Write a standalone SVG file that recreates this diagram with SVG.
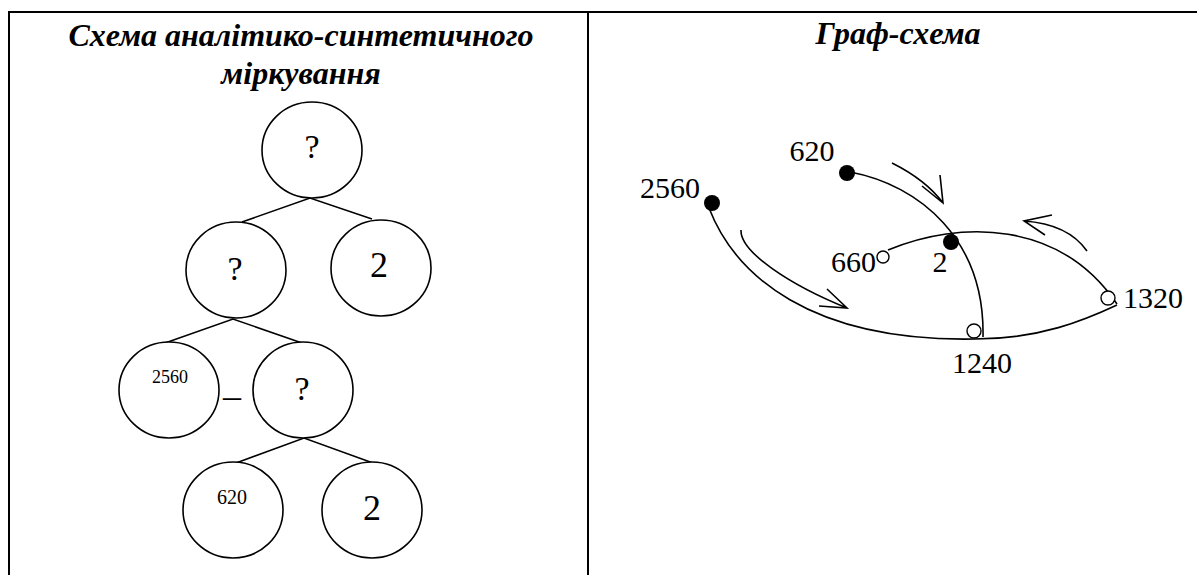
<svg xmlns="http://www.w3.org/2000/svg" width="1197" height="575" viewBox="0 0 1197 575">
  <style>
    .title { font-family: "Liberation Serif", "Times New Roman", serif; font-weight: bold; font-style: italic; font-size: 32px; fill: #000; }
    .lbl { font-family: "Liberation Serif", "Times New Roman", serif; fill: #000; }
    .num { font-family: "Liberation Serif", "Times New Roman", serif; font-size: 30px; fill: #000; }
    .node { fill: #fff; stroke: #000; stroke-width: 1.6; }
    .edge { fill: none; stroke: #000; stroke-width: 1.6; }
    .grid { stroke: #000; stroke-width: 2; fill: none; }
    .dot { fill: #000; }
    .ring { fill: #fff; stroke: #000; stroke-width: 1.4; }
  </style>

  <rect width="1197" height="575" fill="#fff"/>

  <!-- table frame -->
  <g id="table">
    <line class="grid" x1="8" y1="12" x2="1197" y2="12"/>
    <line class="grid" x1="9" y1="12" x2="9" y2="575"/>
    <line class="grid" x1="588" y1="12" x2="588" y2="575"/>
  </g>

  <!-- column headings -->
  <g id="headings">
    <text class="title" x="301" y="46" text-anchor="middle">Схема аналітико-синтетичного</text>
    <text class="title" x="301" y="84" text-anchor="middle">міркування</text>
    <text class="title" x="898" y="44" text-anchor="middle">Граф-схема</text>
  </g>

  <!-- tree connectors -->
  <g id="tree-edges">
    <polyline class="edge" points="242,222 310,198 372,219"/>
    <polyline class="edge" points="165,343 233,319 302,343"/>
    <polyline class="edge" points="236,463 304,438 373,463"/>
  </g>

  <!-- tree nodes -->
  <g id="t-root">
    <ellipse class="node" cx="312" cy="150" rx="50" ry="48"/>
    <text class="lbl" x="312" y="158" font-size="34" text-anchor="middle">?</text>
  </g>
  <g id="t-left">
    <ellipse class="node" cx="236" cy="270" rx="50" ry="48"/>
    <text class="lbl" x="235" y="280" font-size="34" text-anchor="middle">?</text>
  </g>
  <g id="t-right">
    <ellipse class="node" cx="381" cy="268" rx="50" ry="48"/>
    <text class="lbl" x="379" y="277" font-size="36" text-anchor="middle">2</text>
  </g>
  <g id="t-2560">
    <ellipse class="node" cx="169" cy="390" rx="50" ry="48"/>
    <text class="lbl" x="170" y="383" font-size="18" text-anchor="middle">2560</text>
  </g>
  <g id="t-minus">
    <text class="lbl" x="232" y="408" font-size="36" text-anchor="middle">–</text>
  </g>
  <g id="t-sub">
    <ellipse class="node" cx="303" cy="390" rx="50" ry="48"/>
    <text class="lbl" x="302" y="400" font-size="34" text-anchor="middle">?</text>
  </g>
  <g id="t-620">
    <ellipse class="node" cx="233" cy="510" rx="50" ry="48"/>
    <text class="lbl" x="232" y="504" font-size="20" text-anchor="middle">620</text>
  </g>
  <g id="t-2">
    <ellipse class="node" cx="372" cy="510" rx="50" ry="48"/>
    <text class="lbl" x="372" y="520" font-size="36" text-anchor="middle">2</text>
  </g>

  <!-- graph arcs and direction strokes -->
  <g id="graph-edges">
    <path class="edge" d="M 709,208 C 735,275 810,342 975,339 C 1040,339 1085,320 1117,305"/>
    <path class="edge" d="M 850,172 C 920,185 985,240 983,337"/>
    <path class="edge" d="M 888,250 C 960,220 1060,220 1117,304"/>
    <path class="edge" d="M 741,230 C 740,252 790,285 847,308 M 827,289 L 847,308 L 819,306"/>
    <path class="edge" d="M 892,163 Q 926,180 943,203 M 940,175 L 943,203 L 922,186"/>
    <path class="edge" d="M 1087,251 Q 1068,224 1024,221 M 1052,215 L 1024,221 L 1045,235"/>
  </g>

  <!-- graph vertices -->
  <g id="g-2560">
    <circle class="dot" cx="712" cy="203" r="8"/>
    <text class="num" x="700" y="198" text-anchor="end">2560</text>
  </g>
  <g id="g-620">
    <circle class="dot" cx="847" cy="173" r="8"/>
    <text class="num" x="812" y="161" text-anchor="middle">620</text>
  </g>
  <g id="g-2">
    <circle class="dot" cx="951" cy="242" r="8"/>
    <text class="num" x="940" y="272" text-anchor="middle">2</text>
  </g>
  <g id="g-660">
    <circle class="ring" cx="883" cy="257" r="6"/>
    <text class="num" x="876" y="272" text-anchor="end">660</text>
  </g>
  <g id="g-1320">
    <circle class="ring" cx="1108" cy="298" r="7"/>
    <text class="num" x="1123" y="308">1320</text>
  </g>
  <g id="g-1240">
    <circle class="ring" cx="974" cy="331" r="7"/>
    <text class="num" x="982" y="373" text-anchor="middle">1240</text>
  </g>
</svg>
